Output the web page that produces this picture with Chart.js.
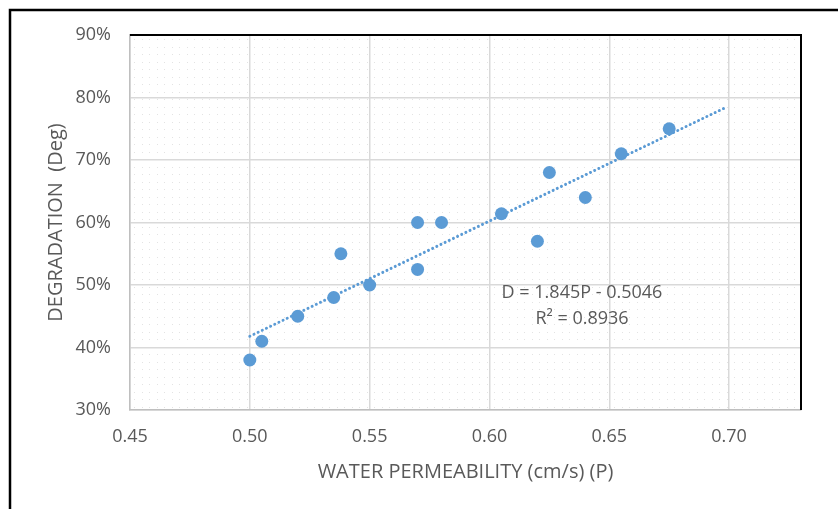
<!DOCTYPE html>
<html>
<head>
<meta charset="utf-8">
<script src="https://cdn.jsdelivr.net/npm/chart.js@4.4.0/dist/chart.umd.min.js"></script>
<style>
  html, body { margin: 0; padding: 0; background: #fff; }
</style>
</head>
<body>
<canvas id="scatterChart" width="838" height="509"></canvas>
<script>
// measured points: water permeability (cm/s) vs degradation (fraction)
const permeability = [0.500, 0.505, 0.520, 0.535, 0.538, 0.550, 0.570, 0.570, 0.580, 0.605, 0.620, 0.625, 0.640, 0.655, 0.675];
const degradation = [0.38, 0.41, 0.45, 0.48, 0.55, 0.50, 0.60, 0.525, 0.60, 0.614, 0.57, 0.68, 0.64, 0.71, 0.75];

// linear trendline end points (D = 1.845P - 0.5046)
const trendX = [0.50, 0.698];
const trendY = [0.418, 0.783];

const xTicks = [0.45, 0.50, 0.55, 0.60, 0.65, 0.70];
const equationLines = ["D = 1.845P - 0.5046", "R² = 0.8936"];

const FONT = "'Open Sans', 'Noto Sans', sans-serif";
const TEXT = "#595959";
const BLUE = "#5b9bd5";

const chartDecor = {
  id: "chartDecor",
  beforeDraw(chart) {
    const { ctx, chartArea: a } = chart;
    ctx.save();
    ctx.fillStyle = "#fff";
    ctx.fillRect(0, 0, chart.width, chart.height);
    // faint dotted pattern inside the plot area
    ctx.fillStyle = "rgba(0,0,0,0.11)";
    for (let y = a.top + 4; y < a.bottom - 2; y += 7.5) {
      for (let x = a.left + 4; x < a.right - 2; x += 7.5) {
        ctx.fillRect(Math.round(x), Math.round(y), 1, 1);
      }
    }
    ctx.restore();
  },
  afterDatasetsDraw(chart) {
    const { ctx, chartArea: a } = chart;
    ctx.save();
    ctx.fillStyle = TEXT;
    ctx.font = "18px " + FONT;
    ctx.textAlign = "center";
    ctx.textBaseline = "middle";
    ctx.fillText(equationLines[0], a.left + 452, 293);
    ctx.fillText(equationLines[1], a.left + 452, 319);
    ctx.restore();
  },
  afterDraw(chart) {
    const { ctx, chartArea: a } = chart;
    ctx.save();
    ctx.strokeStyle = "#000";
    // plot area top and right border
    ctx.lineWidth = 2;
    ctx.beginPath();
    ctx.moveTo(a.left, a.top);
    ctx.lineTo(a.right, a.top);
    ctx.lineTo(a.right, a.bottom);
    ctx.stroke();
    // outer frame
    ctx.lineWidth = 2.5;
    ctx.beginPath();
    ctx.moveTo(10, chart.height);
    ctx.lineTo(10, 10);
    ctx.lineTo(chart.width, 10);
    ctx.stroke();
    ctx.restore();
  },
};

new Chart(document.getElementById("scatterChart"), {
  type: "scatter",
  data: {
    datasets: [
      {
        label: "Degradation",
        data: permeability.map((p, i) => ({ x: p, y: degradation[i] })),
        backgroundColor: BLUE,
        borderColor: BLUE,
        pointRadius: 6.5,
        pointBorderWidth: 0,
        order: 1,
      },
      {
        label: "Linear trend",
        type: "line",
        data: trendX.map((p, i) => ({ x: p, y: trendY[i] })),
        borderColor: BLUE,
        borderWidth: 3,
        borderDash: [0.01, 4.6],
        borderCapStyle: "round",
        pointRadius: 0,
        fill: false,
        order: 2,
      },
    ],
  },
  options: {
    responsive: false,
    animation: false,
    layout: { padding: { top: 35, right: 37, left: 0, bottom: 0 } },
    plugins: {
      legend: { display: false },
      tooltip: { enabled: false },
    },
    scales: {
      x: {
        type: "linear",
        min: 0.45,
        max: 0.73,
        afterBuildTicks: (scale) => {
          scale.ticks = xTicks.map((v) => ({ value: v }));
        },
        afterFit: (scale) => {
          scale.height = 99;
        },
        ticks: {
          callback: (v) => Number(v).toFixed(2),
          color: TEXT,
          font: { family: FONT, size: 18 },
          padding: 16,
          maxRotation: 0,
        },
        grid: { color: "#d9d9d9", lineWidth: 1.5, drawTicks: false },
        border: { display: true, color: "#bfbfbf", width: 1.5 },
        title: {
          display: true,
          text: "WATER PERMEABILITY (cm/s) (P)",
          color: TEXT,
          font: { family: FONT, size: 20 },
          padding: { top: 0, bottom: 25 },
        },
      },
      y: {
        min: 0.3,
        max: 0.9,
        afterFit: (scale) => {
          scale.width = 130;
        },
        ticks: {
          stepSize: 0.1,
          callback: (v) => Math.round(v * 100) + "%",
          color: TEXT,
          font: { family: FONT, size: 18 },
          padding: 19,
        },
        grid: { color: "#d9d9d9", lineWidth: 1.5, drawTicks: false },
        border: { display: true, color: "#bfbfbf", width: 1.5 },
        title: {
          display: true,
          text: "DEGRADATION  (Deg)",
          color: TEXT,
          font: { family: FONT, size: 20 },
          padding: { top: 44, bottom: 0 },
        },
      },
    },
  },
  plugins: [chartDecor],
});
</script>
</body>
</html>
